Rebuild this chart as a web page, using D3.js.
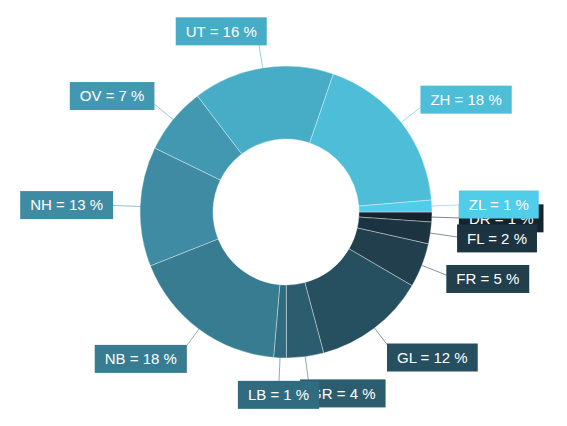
<!DOCTYPE html>
<html>
<head>
<meta charset="utf-8">
<script src="https://cdn.jsdelivr.net/npm/d3@7"></script>
<style>
  html, body { margin: 0; padding: 0; background: #ffffff; }
  svg { display: block; }
</style>
</head>
<body>
<svg id="chart" width="567" height="426"></svg>
<script>
// ---- data ----
const categories = ["DR", "FL", "FR", "GL", "GR", "LB", "NB", "NH", "OV", "UT", "ZH", "ZL"];
const values = [1.1, 2.4, 4.9, 12.4, 4.1, 1.4, 17.6, 13.2, 7.4, 15.6, 18.4, 1.3];

// ---- styles ----
const palette = ["#14242d", "#1c3441", "#213f4d", "#264f5f", "#2c5d6e", "#316b7f",
                 "#387c91", "#3e8ba3", "#4398b1", "#47acc6", "#4ebdd8", "#50cde8"];

const W = 567, H = 426;
const cx = 286, cy = 212;
const outerR = 146, innerR = 73, labelR = 183;

const svg = d3.select("#chart");
const g = svg.append("g").attr("transform", `translate(${cx},${cy})`);

const color = d3.scaleOrdinal().domain(categories).range(palette);

const data = categories.map((c, i) => ({ cat: c, value: values[i] }));
const total = d3.sum(values);

const pie = d3.pie()
  .sort(null)
  .value(d => d.value)
  .startAngle(Math.PI / 2)
  .endAngle(Math.PI / 2 + 2 * Math.PI);

const arcs = pie(data);
const arc = d3.arc().innerRadius(innerR).outerRadius(outerR);

// slices
g.selectAll("path.slice")
  .data(arcs)
  .join("path")
  .attr("class", "slice")
  .attr("d", arc)
  .attr("fill", d => color(d.data.cat))
  .attr("stroke", "rgba(255,255,255,0.45)")
  .attr("stroke-width", 0.8);

const mid = d => (d.startAngle + d.endAngle) / 2;
const pt = (a, r) => [r * Math.sin(a), -r * Math.cos(a)];

// leader lines
g.selectAll("line.leader")
  .data(arcs)
  .join("line")
  .attr("class", "leader")
  .attr("x1", d => pt(mid(d), outerR)[0])
  .attr("y1", d => pt(mid(d), outerR)[1])
  .attr("x2", d => pt(mid(d), labelR - 8)[0])
  .attr("y2", d => pt(mid(d), labelR - 8)[1])
  .attr("stroke", d => color(d.data.cat))
  .attr("stroke-opacity", 0.55)
  .attr("stroke-width", 1);

// labels
const padX = 10, boxH = 28;
const labels = g.selectAll("g.label")
  .data(arcs)
  .join("g")
  .attr("class", "label");

labels.each(function(d) {
  const a = mid(d);
  const [x, y] = pt(a, labelR);
  const s = Math.sin(a);
  const anchor = Math.abs(s) < 0.1 ? "middle" : (s > 0 ? "start" : "end");
  const sel = d3.select(this);
  const rect = sel.append("rect");
  const txt = sel.append("text")
    .attr("x", x)
    .attr("y", y)
    .attr("dy", "0.35em")
    .attr("text-anchor", anchor)
    .attr("fill", "#ffffff")
    .style("font-family", "'Liberation Sans', Arial, Helvetica, sans-serif")
    .style("font-size", "15px")
    .text(`${d.data.cat} = ${Math.round(d.data.value / total * 100)} %`);
  const w = txt.node().getComputedTextLength();
  let left;
  if (anchor === "start") left = x;
  else if (anchor === "end") left = x - w;
  else left = x - w / 2;
  rect.attr("x", left - padX)
    .attr("y", y - boxH / 2)
    .attr("width", w + 2 * padX)
    .attr("height", boxH)
    .attr("fill", color(d.data.cat));
});
</script>
</body>
</html>
